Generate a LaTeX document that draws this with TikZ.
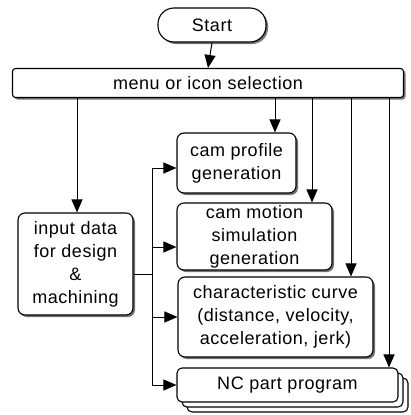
\documentclass[tikz,border=0pt]{standalone}
\usepackage{fontspec}
\setmainfont[LetterSpace=3]{Liberation Sans}
\usetikzlibrary{arrows.meta,shadows}
\begin{document}
\begin{tikzpicture}[x=1pt,y=-1pt,
  box/.style={draw, line width=1.1pt, rounded corners=7pt, fill=white, inner sep=0pt, align=center,
    font=\fontsize{18}{23}\selectfont,
    drop shadow={shadow xshift=2pt, shadow yshift=-2pt, fill=black!55, opacity=1}},
  flow/.style={line width=1pt, -{Triangle[length=13pt,width=11pt]}},
  plain/.style={line width=1pt},
  ncbox/.style={draw, line width=1.1pt, rounded corners=5pt, fill=white, minimum width=221pt, minimum height=34pt, inner sep=0pt}]
\useasboundingbox (0,0) rectangle (411,415);
% Start
\node[box, rounded corners=16pt, minimum width=108pt, minimum height=34pt] (start) at (212,25) {Start};
% menu
\node[box, rounded corners=3pt, minimum width=391pt, minimum height=29pt] (menu) at (208,83) {menu or icon selection};
% input
\node[box, minimum width=115pt, minimum height=102pt] (input) at (75.5,264) {input data\\for design\\\&\\machining};
% cam profile
\node[box, minimum width=119pt, minimum height=60pt] (prof) at (236.5,163) {cam profile\\generation};
% cam motion
\node[box, minimum width=155pt, minimum height=67pt] (motion) at (254.5,236.5) {cam motion\\simulation\\generation};
% characteristic curve
\node[box, minimum width=195pt, minimum height=80pt] (curve) at (275.5,317) {characteristic curve\\(distance, velocity,\\acceleration, jerk)};
% NC stack
\node[ncbox] (nc3) at (297.5,395) {};
\node[ncbox] (nc2) at (292.5,390) {};
\node[ncbox, font=\fontsize{18}{23}\selectfont] (nc) at (287.5,385) {NC part program};
% connectors from start/menu
\draw[flow] (start.south) -- (menu.north);
\draw[flow] (menu.south -| 77,0) -- (input.north -| 77,0);
\draw[flow] (menu.south -| 275,0) -- (prof.north -| 275,0);
\draw[flow] (menu.south -| 312,0) -- (motion.north -| 312,0);
\draw[flow] (menu.south -| 351,0) -- (curve.north -| 351,0);
\draw[flow] (menu.south -| 389,0) -- (nc.north -| 389,0);
% branch from input
\coordinate (bt) at (152,168);
\coordinate (bb) at (152,385);
\draw[plain] (input.east |- 0,274) -- (152,274);
\draw[plain] (bt) -- (bb);
\draw[flow] (bt) -- (prof.west |- bt);
\draw[flow] (152,247) -- (motion.west |- 0,247);
\draw[flow] (152,317) -- (curve.west |- 0,317);
\draw[flow] (bb) -- (nc.west |- bb);
\end{tikzpicture}
\end{document}
